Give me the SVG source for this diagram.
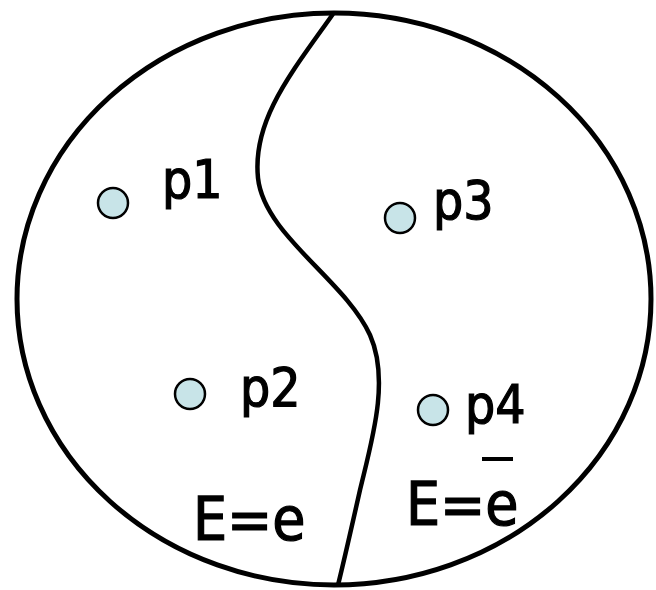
<svg xmlns="http://www.w3.org/2000/svg" width="656" height="590" viewBox="0 0 656 590">
<style>
.pt{fill:#c8e4e8;stroke:#000;stroke-width:2.5}
.lbl{font-family:"DejaVu Sans Condensed","DejaVu Sans","Liberation Sans",sans-serif;font-size:53px;fill:#000;stroke:#000;stroke-width:1.2}
.big{font-size:60px}
</style>
<rect width="656" height="590" fill="#fff"/>
<g id="region">
<ellipse cx="334" cy="299" rx="317" ry="286" fill="none" stroke="#000" stroke-width="5"/>
</g>
<g id="connectors">
<path d="M333,14 C292,72 252,120 258,178 C264,235 345,280 370,335 C390,380 372,440 360,490 C351,530 343,565 338,585" fill="none" stroke="#000" stroke-width="4.5"/>
</g>
<g id="p1"><circle class="pt" cx="113" cy="203" r="15"/><text class="lbl" x="162" y="198">p1</text></g>
<g id="p3"><circle class="pt" cx="400" cy="218" r="15"/><text class="lbl" x="433" y="219">p3</text></g>
<g id="p2"><circle class="pt" cx="190" cy="394" r="15"/><text class="lbl" x="240" y="406">p2</text></g>
<g id="p4"><circle class="pt" cx="433" cy="410" r="15"/><text class="lbl" x="465" y="423">p4</text></g>
<g id="label-e"><text class="lbl big" x="193" y="540">E=e</text></g>
<g id="label-ebar"><text class="lbl big" x="406" y="525">E=e</text><line x1="482" y1="459" x2="513" y2="459" stroke="#000" stroke-width="4"/></g>
</svg>
